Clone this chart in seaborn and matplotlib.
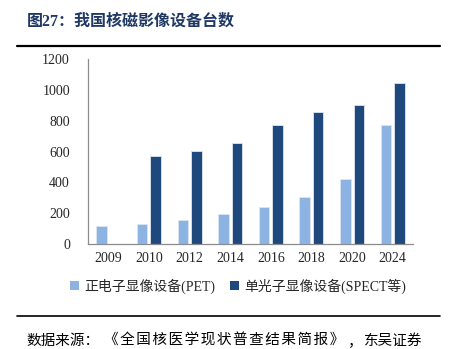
import matplotlib
matplotlib.use("Agg")
import matplotlib.pyplot as plt
import seaborn as sns
import pandas as pd
from matplotlib.lines import Line2D
from matplotlib.patches import Patch

years = ["2009", "2010", "2012", "2014", "2016", "2018", "2020", "2024"]
pet = [115, 128, 157, 193, 243, 304, 424, 770]
spect = [0, 569, 602, 659, 772, 856, 902, 1044]
series = ["正电子显像设备(PET)", "单光子显像设备(SPECT等)"]
colors = ["#8DB3E2", "#1F497D"]
yticks = [0, 200, 400, 600, 800, 1000, 1200]

sns.set_style("white")
plt.rcParams["font.family"] = ["Liberation Serif", "Noto Sans CJK SC", "DejaVu Sans"]

df = pd.DataFrame({
    "year": years * 2,
    "value": pet + spect,
    "series": [series[0]] * len(years) + [series[1]] * len(years),
})

fig = plt.figure(figsize=(4.52, 3.49), dpi=100)
ax = fig.add_axes([88 / 452, 1 - 244 / 349, 325 / 452, (244 - 59.3) / 349])
sns.barplot(data=df, x="year", y="value", hue="series", palette=colors,
            width=0.667, gap=0.22, ax=ax, legend=False, linewidth=0.6,
            edgecolor="#DCE6F2", saturation=1)

ax.set_xlim(-0.5, 7.5)
ax.set_ylim(0, 1200)
ax.set_yticks(yticks)
ax.set_yticklabels([str(t) for t in yticks], fontsize=10)
ax.set_xlabel("")
ax.set_ylabel("")
for lab in ax.get_xticklabels():
    lab.set_fontsize(10)
for s in ["top", "right"]:
    ax.spines[s].set_visible(False)
for s in ["left", "bottom"]:
    ax.spines[s].set_color("#8C8C8C")
    ax.spines[s].set_linewidth(0.9)
ax.tick_params(axis="y", length=4, color="#8C8C8C", width=0.9, pad=9)
ax.tick_params(axis="x", length=0, pad=6)

handles = [Patch(facecolor=c, edgecolor="none") for c in colors]
fig.legend(handles, series, loc="center", bbox_to_anchor=(0.527, 0.180), ncol=2,
           frameon=False, fontsize=10, handlelength=0.6, handleheight=0.6,
           handletextpad=0.4, columnspacing=1.1)

fig.text(27 / 452, 1 - 22 / 349, "图27：我国核磁影像设备台数", fontsize=11.5,
         fontweight="bold", color="#1F3864", va="center", ha="left",
         family=["Liberation Serif", "Noto Sans CJK SC"])
fig.add_artist(Line2D([17 / 452, 440 / 452], [1 - 46 / 349] * 2, color="black",
                      linewidth=1.6, transform=fig.transFigure))
fig.add_artist(Line2D([17 / 452, 440 / 452], [1 - 316 / 349] * 2, color="black",
                      linewidth=1.2, transform=fig.transFigure))
src_kw = dict(fontsize=10.5, color="black", va="center", ha="left",
              family=["Noto Sans CJK SC", "DejaVu Sans"])
fig.text(26 / 452, 1 - 341 / 349, "数据来源：", **src_kw)
mid = "\u200a".join("《全国核医学现状普查结果简报》")
fig.text(104 / 452, 1 - 341 / 349, mid, **src_kw)
fig.text(348 / 452, 1 - 341 / 349, "，", **src_kw)
fig.text(364 / 452, 1 - 341 / 349, "东吴证券", **src_kw)

fig.savefig("out.png", dpi=100)
